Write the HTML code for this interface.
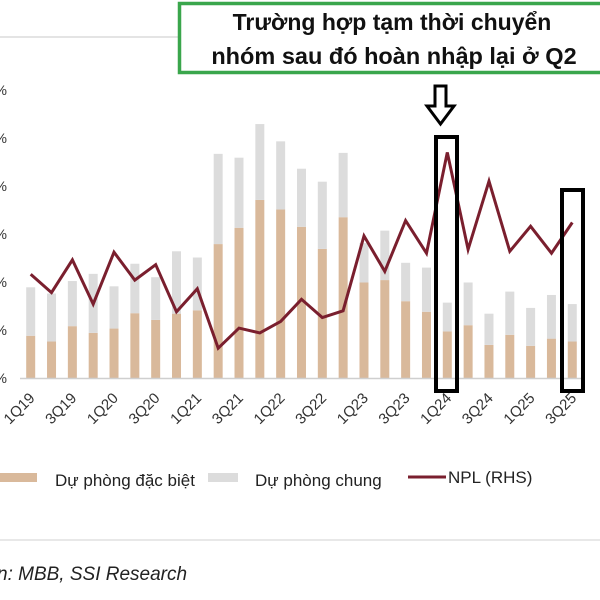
<!DOCTYPE html>
<html><head><meta charset="utf-8">
<style>
html,body{margin:0;padding:0;background:#fff;width:600px;height:600px;overflow:hidden}
svg{display:block}
text{font-family:"Liberation Sans","Noto Sans CJK SC",sans-serif}
</style></head>
<body>
<svg id="chart" width="600" height="600" viewBox="0 0 600 600">
  <line x1="0" y1="37" x2="180" y2="37" stroke="#c8c8c8" stroke-width="1"/>
  <line x1="0" y1="540" x2="600" y2="540" stroke="#d0d0d0" stroke-width="1"/>
  <g id="yaxis"></g>
  <g id="bars"></g>
  <line x1="20" y1="378.5" x2="585" y2="378.5" stroke="#cfcfcf" stroke-width="1.5"/>
  <g id="line"></g>
  <g id="xlabels"></g>

  <rect x="436" y="137" width="21" height="254" fill="none" stroke="#000" stroke-width="4"/>
  <rect x="562" y="190" width="21" height="201" fill="none" stroke="#000" stroke-width="4"/>
  <path d="M435 86 L446 86 L446 106 L454 106 L440.5 124 L427 106 L435 106 Z" fill="#fff" stroke="#000" stroke-width="3" stroke-linejoin="miter"/>

  <rect x="179.5" y="3.5" width="425" height="69" fill="#fff" stroke="#3aa64c" stroke-width="3.5"/>
  <text x="392" y="30" font-size="23" font-weight="bold" text-anchor="middle" fill="#111">Trường hợp tạm thời  chuyển</text>
  <text x="394" y="64" font-size="23.5" font-weight="bold" text-anchor="middle" fill="#111">nhóm sau đó hoàn nhập lại ở Q2</text>

  <g>
    <rect x="0" y="473" width="37" height="9" fill="#d9b99b"/>
    <text x="55" y="486" font-size="17" fill="#222">Dự phòng đặc biệt</text>
    <rect x="208" y="473" width="30" height="9" fill="#dcdcdc"/>
    <text x="255" y="486" font-size="17" fill="#222">Dự phòng chung</text>
    <line x1="408" y1="477" x2="446" y2="477" stroke="#7a1f2e" stroke-width="3"/>
    <text x="448" y="483" font-size="17" fill="#222">NPL (RHS)</text>
  </g>
  <text x="-3" y="580" font-size="19" font-style="italic" fill="#222">n: MBB, SSI Research</text>
</svg>
<script>
const categories = ["1Q19","2Q19","3Q19","4Q19","1Q20","2Q20","3Q20","4Q20","1Q21","2Q21","3Q21","4Q21","1Q22","2Q22","3Q22","4Q22","1Q23","2Q23","3Q23","4Q23","1Q24","2Q24","3Q24","4Q24","1Q25","2Q25","3Q25"];
const specificProvision = [0.88,0.76,1.08,0.94,1.03,1.35,1.21,1.34,1.41,2.79,3.13,3.71,3.51,3.15,2.69,3.35,1.99,2.04,1.60,1.38,0.97,1.10,0.69,0.90,0.67,0.82,0.76];
const generalProvision = [1.01,1.00,0.94,1.23,0.88,1.03,0.89,1.30,1.10,1.88,1.46,1.58,1.42,1.21,1.40,1.34,0.82,1.03,0.80,0.92,0.60,0.89,0.65,0.90,0.79,0.91,0.78];
const nplValues = [1.08,0.89,1.23,0.77,1.31,1.02,1.18,0.69,0.93,0.31,0.52,0.47,0.59,0.82,0.63,0.70,1.48,1.11,1.64,1.30,2.35,1.34,2.05,1.32,1.58,1.30,1.62];
const leftTicks = [0,1,2,3,4,5,6];
const leftTickLabels = ["0%","1%","2%","3%","4%","5%","6%"];

const NS = "http://www.w3.org/2000/svg";
const baseY = 378, unitPx = 48;
function xPos(i){ return 30.7 + i * 20.83; }
function yLeft(v){ return baseY - v * unitPx; }
function yRight(v){ return baseY - v * unitPx * 2; }
function mk(tag, attrs, parent){ const e = document.createElementNS(NS, tag); for (const k in attrs) e.setAttribute(k, attrs[k]); parent.appendChild(e); return e; }

const yaxis = document.getElementById('yaxis');
leftTicks.forEach((t, i) => {
  const tx = mk('text', {x: 7, y: yLeft(t) + 5, 'font-size': 14, 'text-anchor': 'end', fill: '#333'}, yaxis);
  tx.textContent = leftTickLabels[i];
  
  
});

const bars = document.getElementById('bars');
const bw = 9;
categories.forEach((c, i) => {
  const x = xPos(i) - bw / 2;
  const s = specificProvision[i], g = generalProvision[i];
  const r1 = mk('rect', {x: x, y: yLeft(s), width: bw, height: baseY - yLeft(s), fill: '#d9b99b'}, bars);
  
  
  const r2 = mk('rect', {x: x, y: yLeft(s + g), width: bw, height: yLeft(s) - yLeft(s + g), fill: '#dcdcdc'}, bars);
  
  
});

const lineG = document.getElementById('line');
const pts = nplValues.map((v, i) => xPos(i).toFixed(1) + ',' + yRight(v).toFixed(1)).join(' ');
const pl = mk('polyline', {points: pts, fill: 'none', stroke: '#7a1f2e', 'stroke-width': 3, 'stroke-linejoin': 'miter'}, lineG);



const xl = document.getElementById('xlabels');
categories.forEach((c, i) => {
  if (i % 2 !== 0) return;
  const x = xPos(i) + 5, y = 399;
  const t = mk('text', {x: x, y: y, 'font-size': 15, 'text-anchor': 'end', fill: '#333', transform: 'rotate(-45 ' + x + ' ' + y + ')'}, xl);
  t.textContent = c;
  
  
});
</script>
</body></html>
